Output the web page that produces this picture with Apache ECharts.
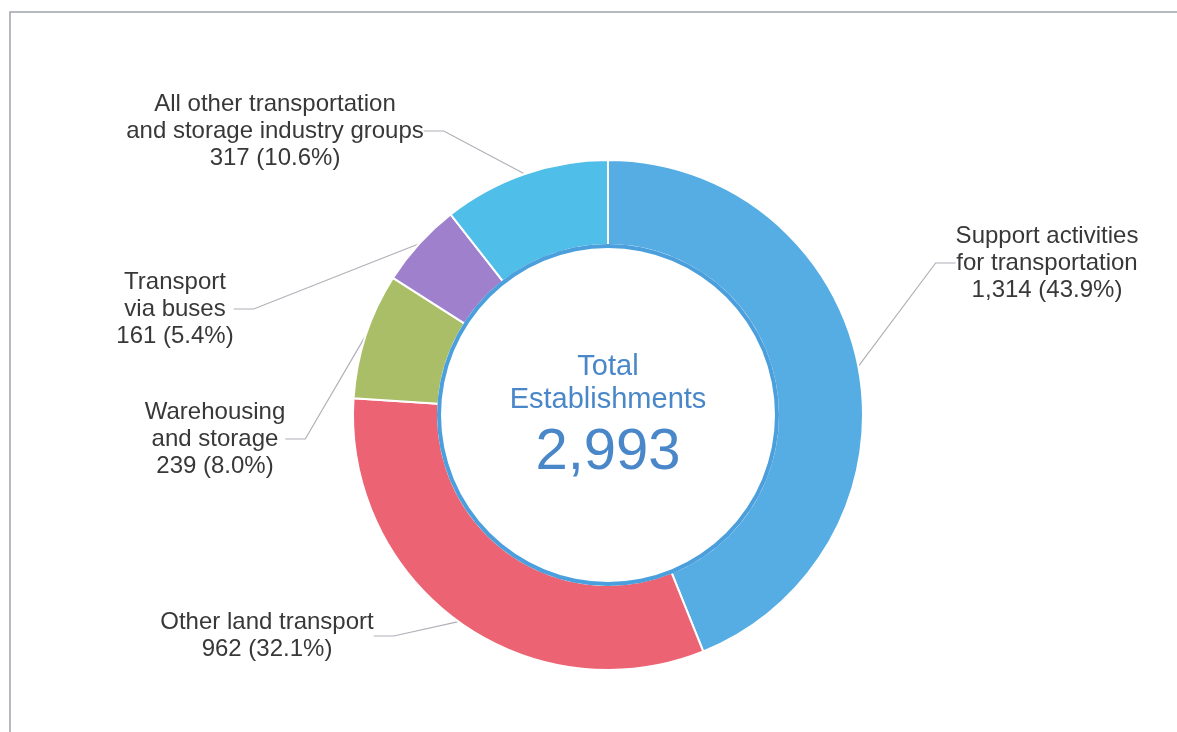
<!DOCTYPE html>
<html>
<head>
<meta charset="utf-8">
<script src="https://cdn.jsdelivr.net/npm/echarts@6/dist/echarts.min.js"></script>
<style>
  html, body { margin: 0; padding: 0; background: #fff; }
  #chart { width: 1177px; height: 732px; }
</style>
</head>
<body>
<div id="chart"></div>
<script>
// data
const names = [
  "Support activities\nfor transportation",
  "Other land transport",
  "Warehousing\nand storage",
  "Transport\nvia buses",
  "All other transportation\nand storage industry groups"
];
const values = [1314, 962, 239, 161, 317];
const colors = ["#56ade3", "#ec6474", "#a9be66", "#9e80cd", "#4fbee8"];
const totalLabel = ["Total", "Establishments"];

// where each label sits (centre of the text block)
const labelPos = [
  [1047, 263],
  [267, 636],
  [215, 439],
  [175, 309],
  [275, 131]
];

const FONT = "'Liberation Sans', Arial, sans-serif";
const total = values.reduce((a, b) => a + b, 0);

const chart = echarts.init(document.getElementById("chart"), null, { renderer: "canvas" });

const option = {
  backgroundColor: "#fff",
  animation: false,
  graphic: [
    {
      type: "rect",
      shape: { x: 10, y: 12, width: 1190, height: 760 },
      style: { fill: "none", stroke: "#a0a3ad", lineWidth: 1.5 },
      silent: true
    },
    {
      type: "text",
      x: 608, y: 367,
      style: {
        text: totalLabel[0], fill: "#4a87c9", font: "29px " + FONT,
        align: "center", verticalAlign: "middle"
      }
    },
    {
      type: "text",
      x: 608, y: 400,
      style: {
        text: totalLabel[1], fill: "#4a87c9", font: "29px " + FONT,
        align: "center", verticalAlign: "middle"
      }
    },
    {
      type: "text",
      x: 608, y: 453,
      style: {
        text: total.toLocaleString("en-US"), fill: "#4a87c9", font: "58px " + FONT,
        align: "center", verticalAlign: "middle"
      }
    }
  ],
  series: [
    {
      type: "pie",
      center: [608, 415],
      radius: [170, 255],
      startAngle: 90,
      clockwise: true,
      avoidLabelOverlap: false,
      itemStyle: { borderColor: "#fff", borderWidth: 2 },
      label: {
        show: true,
        color: "#383838",
        fontSize: 24,
        lineHeight: 27,
        fontFamily: FONT,
        align: "center",
        formatter: function (p) {
          return p.name + "\n" + p.value.toLocaleString("en-US") +
            " (" + (p.value / total * 100).toFixed(1) + "%)";
        }
      },
      labelLine: {
        show: true,
        length: 20,
        length2: 20,
        lineStyle: { color: "#b0b0b8", width: 1.2 }
      },
      labelLayout: function (params) {
        const pos = labelPos[params.dataIndex];
        return { x: pos[0], y: pos[1], align: "center", verticalAlign: "middle" };
      },
      emphasis: { disabled: true },
      data: values.map((v, i) => ({
        name: names[i],
        value: v,
        itemStyle: { color: colors[i] }
      }))
    },
    {
      type: "pie",
      center: [608, 415],
      radius: [167, 171],
      silent: true,
      label: { show: false },
      labelLine: { show: false },
      itemStyle: { color: "#4a9fdc" },
      data: [{ value: total }]
    }
  ]
};

chart.setOption(option);
</script>
</body>
</html>
